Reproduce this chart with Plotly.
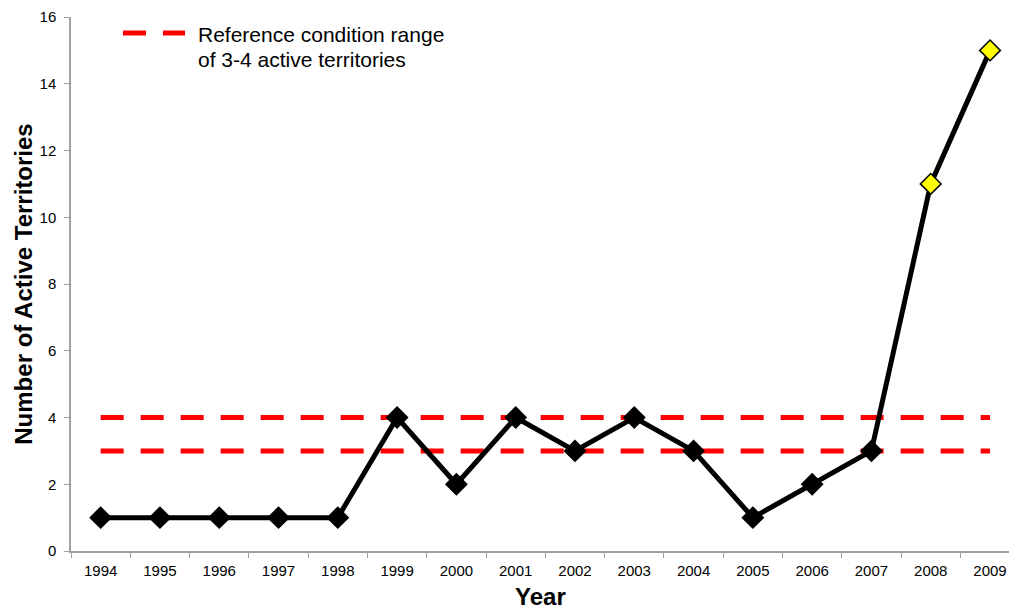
import plotly.graph_objects as go

years = [str(y) for y in range(1994, 2010)]
territories = [1, 1, 1, 1, 1, 4, 2, 4, 3, 4, 3, 1, 2, 3, 11, 15]
highlight_years = ["2008", "2009"]
ref_low = 3
ref_high = 4
legend_lines = ["Reference condition range", "of 3-4 active territories"]
x_title = "Year"
y_title = "Number of Active Territories"

marker_colors = ["#FFFF00" if y in highlight_years else "#000000" for y in years]

fig = go.Figure()

for level in (ref_high, ref_low):
    fig.add_trace(go.Scatter(
        x=[years[0], years[-1]], y=[level, level], mode="lines",
        line=dict(color="#FF0000", width=5, dash="23px,17px"),
        showlegend=False, hoverinfo="skip"))

fig.add_trace(go.Scatter(
    x=years, y=territories, mode="lines+markers",
    line=dict(color="#000000", width=5),
    marker=dict(symbol="diamond", size=16, color=marker_colors,
                line=dict(color="#000000", width=1.5)),
    showlegend=False))

L, T, B = 71, 17, 60
W, H = 1009, 611
pw, ph = W - L, H - T - B

# manual legend
fig.add_shape(type="line", xref="paper", yref="paper",
              x0=(123 - L) / pw, x1=(185 - L) / pw,
              y0=(H - B - 33) / ph, y1=(H - B - 33) / ph,
              line=dict(color="#FF0000", width=5, dash="23px,17px"))
for i, line_text in enumerate(legend_lines):
    fig.add_annotation(xref="paper", yref="paper",
                       x=(196 - L) / pw, y=(H - B - (35 + 24.5 * i)) / ph,
                       xanchor="left", yanchor="middle", align="left",
                       text=line_text, showarrow=False,
                       font=dict(family="Liberation Sans, Arial", size=21, color="#000000"))

# x axis title placed precisely
fig.add_annotation(xref="paper", yref="paper",
                   x=0.5, y=(H - B - 596) / ph,
                   xanchor="center", yanchor="middle",
                   text="<b>" + x_title + "</b>", showarrow=False,
                   font=dict(family="Liberation Sans, Arial", size=24, color="#000000"))

axis_color = "#A0A0A0"
fig.update_layout(
    width=W, height=H,
    margin=dict(l=L, r=0, t=T, b=B),
    plot_bgcolor="white", paper_bgcolor="white",
    font=dict(family="Liberation Sans, Arial", color="#000000"),
    xaxis=dict(
        type="category", categoryorder="array", categoryarray=years,
        range=[-0.5, 15.32], automargin=False,
        showgrid=False, zeroline=False,
        showline=True, linecolor=axis_color, linewidth=1.5,
        ticks="outside", tickson="boundaries", ticklen=5, tickcolor=axis_color,
        ticklabelstandoff=5,
        tickfont=dict(size=15, color="#000000"),
    ),
    yaxis=dict(
        range=[0, 16], dtick=2, automargin=False,
        showgrid=False, zeroline=False,
        showline=True, linecolor=axis_color, linewidth=1.5,
        ticks="outside", ticklen=5, tickcolor=axis_color,
        ticklabelstandoff=5,
        tickfont=dict(size=15, color="#000000"),
        title=dict(text="<b>" + y_title + "</b>", font=dict(size=24), standoff=0),
    ),
)

fig.write_html("out.html", config={"displayModeBar": False},
               post_script="document.body.style.margin='0px';")
